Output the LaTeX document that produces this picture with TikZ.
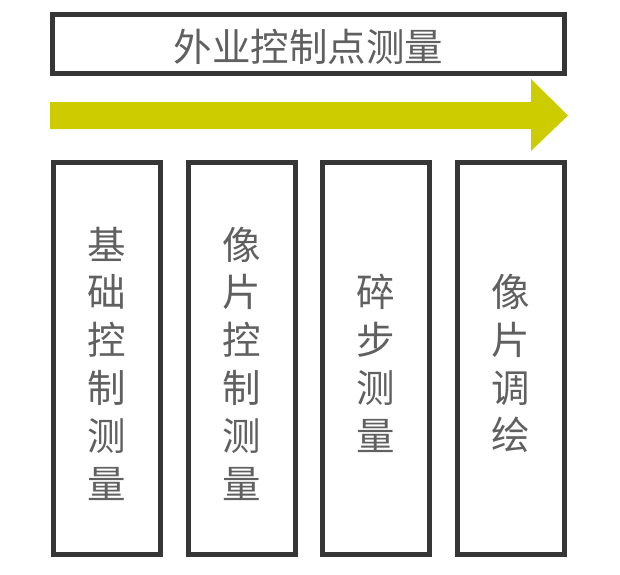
\documentclass[tikz,border=0pt]{standalone}
\usepackage{fontspec}
\setmainfont{Noto Sans CJK SC}
\definecolor{frame}{HTML}{363636}
\definecolor{txt}{HTML}{606060}
\definecolor{arrowc}{RGB}{204,204,0}
\tikzset{
  box/.style={draw=frame, line width=5pt, fill=white, inner sep=0pt},
  vbox/.style={box, minimum width=107pt, minimum height=392pt},
  vtext/.style={text=txt, align=center, inner sep=0pt, font=\fontsize{38.5}{47.8}\selectfont},
}
\begin{document}
\begin{tikzpicture}[x=1pt,y=-1pt]
\useasboundingbox (0,0) rectangle (620,574);
\node[box, minimum width=512pt, minimum height=59pt] (top) at (308.5,44) {};
\node[vtext, font=\fontsize{38.5}{44}\selectfont] (toptext) at ([yshift=-2.5pt]top.center) {外业控制点测量};
\fill[arrowc] (50,102) -- (531,102) -- (531,79) -- (568,115.5) -- (531,151) -- (531,129) -- (50,129) -- cycle;
\node[vbox] (b1) at (107,358.5) {};
\node[vbox] (b2) at (241.5,358.5) {};
\node[vbox] (b3) at (375.5,358.5) {};
\node[vbox] (b4) at (510.5,358.5) {};
\node[vtext] (t1) at ([yshift=-5pt]b1.center) {基\\础\\控\\制\\测\\量};
\node[vtext] (t2) at ([yshift=-5pt]b2.center) {像\\片\\控\\制\\测\\量};
\node[vtext] (t3) at ([yshift=-5pt]b3.center) {碎\\步\\测\\量};
\node[vtext] (t4) at ([yshift=-5pt]b4.center) {像\\片\\调\\绘};
\end{tikzpicture}
\end{document}
